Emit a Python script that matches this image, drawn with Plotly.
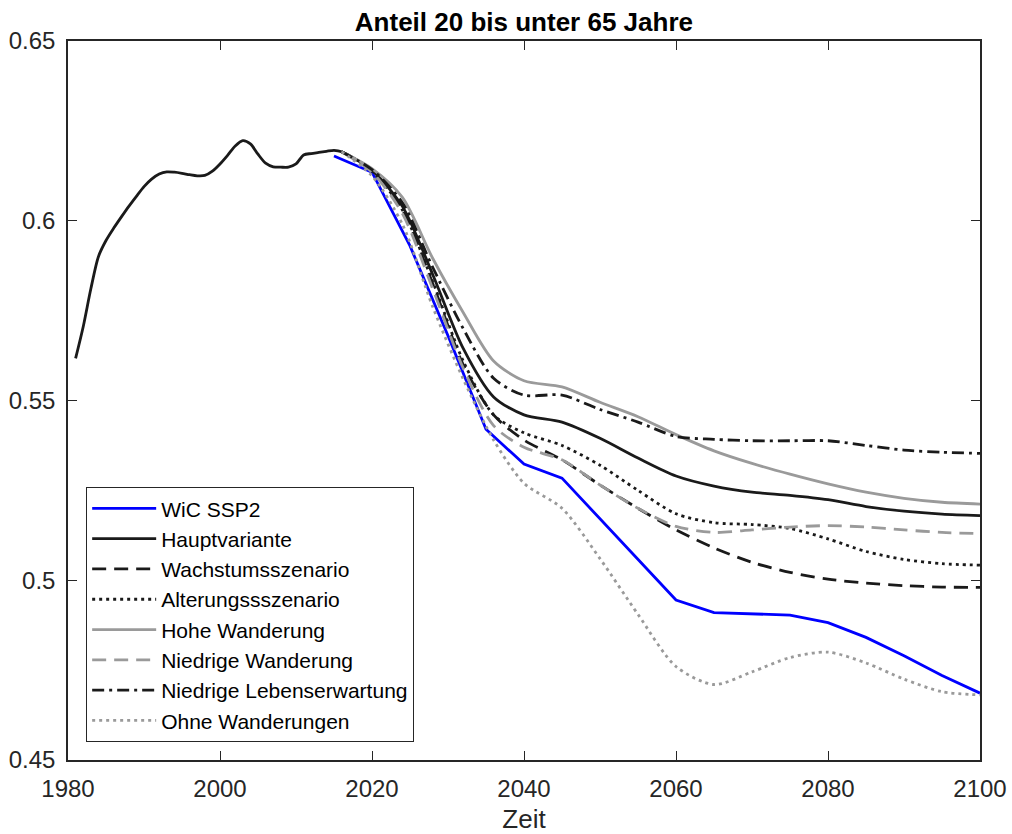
import plotly.graph_objects as go

# ---------------- data ----------------
HIST_YEARS = [1981, 1982, 1983, 1984, 1985, 1986, 1987, 1988, 1989, 1990,
              1991, 1992, 1993, 1994, 1995, 1996, 1997, 1998, 1999, 2000,
              2001, 2002, 2003, 2004, 2005, 2006, 2007, 2008, 2009, 2010,
              2011, 2012, 2013, 2014, 2015]
HIST_VALUES = [0.5617, 0.5705, 0.5810, 0.5900, 0.5945, 0.5979, 0.6010, 0.6040, 0.6068, 0.6095,
               0.6116, 0.6130, 0.6136, 0.6135, 0.6132, 0.6128, 0.6125, 0.6126, 0.6138, 0.6158,
               0.6182, 0.6208, 0.6223, 0.6214, 0.6185, 0.6160, 0.6150, 0.6149, 0.6149, 0.6158,
               0.6183, 0.6187, 0.6190, 0.6193, 0.6196]

PROJ_YEARS = [2016, 2020, 2024, 2028, 2032, 2036, 2040, 2045, 2050, 2055,
              2060, 2065, 2070, 2075, 2080, 2085, 2090, 2095, 2100]

HAUPT = [0.6192, 0.6140, 0.6040, 0.5850, 0.5645, 0.5510, 0.5460, 0.5440, 0.5395, 0.5340,
         0.5290, 0.5262, 0.5245, 0.5236, 0.5224, 0.5205, 0.5192, 0.5184, 0.5180]
WACHSTUM = [0.6192, 0.6138, 0.6030, 0.5825, 0.5600, 0.5460, 0.5390, 0.5335, 0.5265, 0.5200,
            0.5140, 0.5090, 0.5050, 0.5022, 0.5003, 0.4992, 0.4985, 0.4981, 0.4980]
ALTERUNG = [0.6192, 0.6138, 0.6030, 0.5830, 0.5610, 0.5460, 0.5410, 0.5375, 0.5320, 0.5250,
            0.5185, 0.5160, 0.5155, 0.5144, 0.5115, 0.5080, 0.5058, 0.5046, 0.5042]
HOHE_WAND = [0.6192, 0.6145, 0.6065, 0.5895, 0.5745, 0.5610, 0.5555, 0.5538, 0.5495, 0.5455,
             0.5405, 0.5360, 0.5325, 0.5295, 0.5268, 0.5245, 0.5228, 0.5217, 0.5212]
NIEDR_WAND = [0.6192, 0.6135, 0.6020, 0.5810, 0.5590, 0.5430, 0.5370, 0.5335, 0.5265, 0.5200,
              0.5150, 0.5133, 0.5140, 0.5148, 0.5152, 0.5148, 0.5140, 0.5133, 0.5130]
NIEDR_LEB = [0.6192, 0.6142, 0.6050, 0.5870, 0.5700, 0.5562, 0.5515, 0.5515, 0.5475, 0.5440,
             0.5400, 0.5392, 0.5388, 0.5388, 0.5388, 0.5375, 0.5362, 0.5356, 0.5353]
OHNE_WAND = [0.6192, 0.6125, 0.5990, 0.5760, 0.5560, 0.5390, 0.5270, 0.5200, 0.5060, 0.4905,
             0.4760, 0.4710, 0.4745, 0.4785, 0.4800, 0.4770, 0.4725, 0.4690, 0.4681]

WIC_YEARS = [2015, 2020, 2025, 2030, 2035, 2040, 2045, 2050, 2055, 2060,
             2065, 2070, 2075, 2080, 2085, 2090, 2095, 2100]
WIC_SSP2 = [0.6180, 0.6135, 0.5930, 0.5680, 0.5420, 0.5323, 0.5284, 0.5171, 0.5058, 0.4945,
            0.4910, 0.4906, 0.4903, 0.4882, 0.4841, 0.4790, 0.4735, 0.4686]

SERIES_NAMES = ["WiC SSP2", "Hauptvariante", "Wachstumsszenario", "Alterungsssz" + "enario",
                "Hohe Wanderung", "Niedrige Wanderung", "Niedrige Lebenserwartung",
                "Ohne Wanderungen"]

X_TICKS = [1980, 2000, 2020, 2040, 2060, 2080, 2100]
Y_TICKS = [0.45, 0.5, 0.55, 0.6, 0.65]
Y_TICK_LABELS = ["0.45", "0.5", "0.55", "0.6", "0.65"]

TITLE = "Anteil 20 bis unter 65 Jahre"
X_LABEL = "Zeit"

# ---------------- figure ----------------
BLACK = "#1a1a1a"
GRAY = "#9a9a9a"
BLUE = "#0000ff"
W = 2.8
FONT = "Liberation Sans, Arial, sans-serif"
AXC = "#262626"

fig = go.Figure()

series = [
    (WIC_YEARS, WIC_SSP2, BLUE, "solid", "linear"),
    (HIST_YEARS + PROJ_YEARS, HIST_VALUES + HAUPT, BLACK, "solid", "spline"),
    (PROJ_YEARS, WACHSTUM, BLACK, "14px,8px", "spline"),
    (PROJ_YEARS, ALTERUNG, BLACK, "3px,4px", "spline"),
    (PROJ_YEARS, HOHE_WAND, GRAY, "solid", "spline"),
    (PROJ_YEARS, NIEDR_WAND, GRAY, "14px,8px", "spline"),
    (PROJ_YEARS, NIEDR_LEB, BLACK, "12px,5px,3px,5px", "spline"),
    (PROJ_YEARS, OHNE_WAND, GRAY, "3px,4px", "spline"),
]

for name, (xs, ys, col, dash, shape) in zip(SERIES_NAMES, series):
    line = dict(color=col, width=W, dash=dash, shape=shape)
    if shape == "spline":
        line["smoothing"] = 0.8
    fig.add_trace(go.Scatter(x=xs, y=ys, mode="lines", name=name, line=line))

axis_common = dict(
    showgrid=False, zeroline=False, showline=True, linecolor=AXC, linewidth=1.5,
    mirror="ticks", ticks="inside", ticklen=9, tickwidth=1.2, tickcolor=AXC,
    tickfont=dict(family=FONT, size=24, color=AXC), automargin=False,
)

fig.update_xaxes(range=[1980, 2100], tickvals=X_TICKS, ticklabelstandoff=6,
                 title=dict(text=X_LABEL, font=dict(family=FONT, size=26, color=AXC), standoff=9),
                 **axis_common)
fig.update_yaxes(range=[0.45, 0.65], tickvals=Y_TICKS, ticktext=Y_TICK_LABELS,
                 ticklabelstandoff=6, **axis_common)

fig.update_layout(
    width=1012, height=834,
    margin=dict(l=68, r=32, t=41, b=74, autoexpand=False),
    plot_bgcolor="white", paper_bgcolor="white",
    title=dict(text=f"<b>{TITLE}</b>", x=0.5177, xanchor="center", y=0.974, yanchor="middle",
               font=dict(family=FONT, size=26, color="black"), automargin=False),
    legend=dict(x=0.0197, y=0.025, xanchor="left", yanchor="bottom",
                bordercolor=AXC, borderwidth=1.2, bgcolor="white",
                font=dict(family=FONT, size=21, color="black"),
                itemwidth=64),
    showlegend=True,
)

fig.write_html("out.html")
